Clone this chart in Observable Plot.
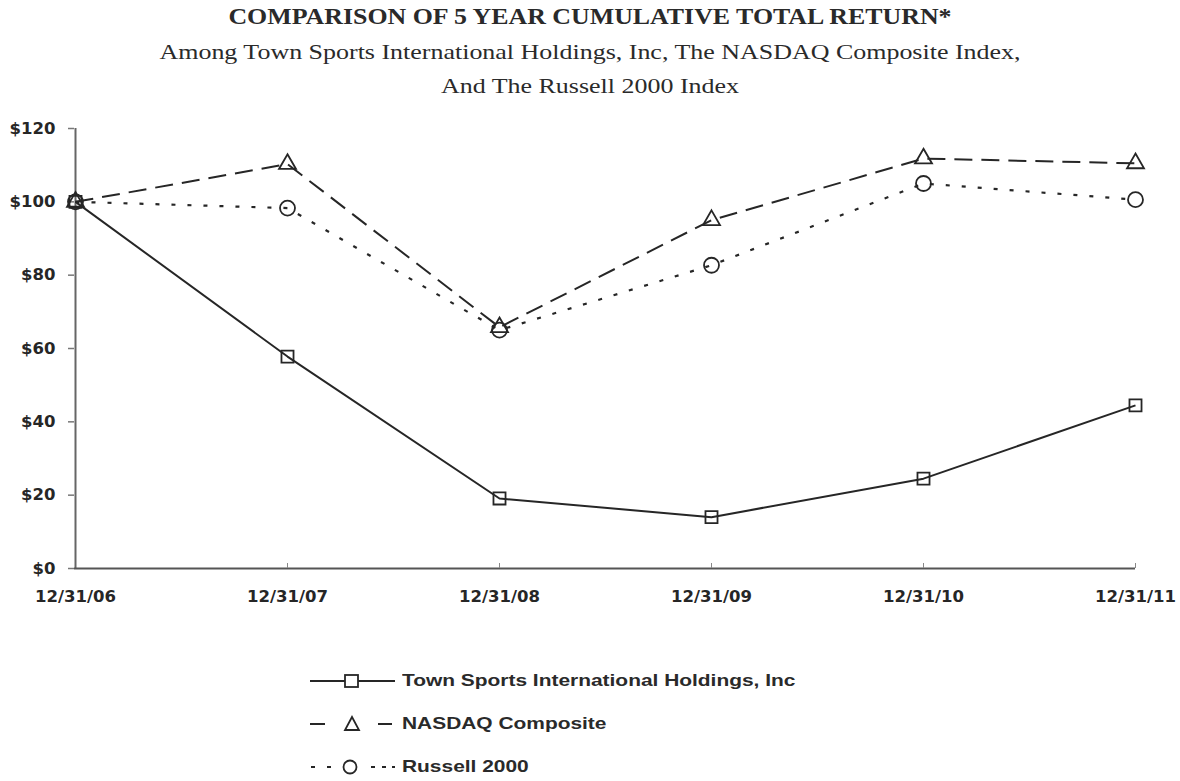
<!DOCTYPE html>
<html>
<head>
<meta charset="utf-8">
<script src="https://cdn.jsdelivr.net/npm/d3@7"></script>
<script src="https://cdn.jsdelivr.net/npm/@observablehq/plot@0.6"></script>
<style>
  body { margin: 0; background: #fff; }
  #wrap { position: relative; width: 1180px; height: 781px; overflow: hidden; }
  .t1 { position: absolute; left: 0; width: 1180px; text-align: center; font-family: "Liberation Serif", "DejaVu Serif", serif; color: #2a2a2a; white-space: nowrap; }
  #legend { position: absolute; left: 308px; top: 659px; font-family: "Liberation Sans", Arial, sans-serif; font-weight: bold; font-size: 17px; color: #2a2a2a; }
  .row { display: flex; align-items: center; height: 43px; }
  .row svg { margin-right: 6px; flex: none; }
  .row span { display: inline-block; transform: scaleX(1.23); transform-origin: left center; white-space: nowrap; }
</style>
</head>
<body>
<div id="wrap">
  <div class="t1" style="top:4px; font-size:22.5px; font-weight:bold; transform: scaleX(1.15);">COMPARISON OF 5 YEAR CUMULATIVE TOTAL RETURN*</div>
  <div class="t1" style="top:39px; font-size:22px; transform: scaleX(1.18);">Among Town Sports International Holdings, Inc, The NASDAQ Composite Index,</div>
  <div class="t1" style="top:73px; font-size:22px; transform: scaleX(1.18);">And The Russell 2000 Index</div>
  <div id="chart" style="position:absolute; left:0; top:110px;"></div>
  <div id="legend"></div>
</div>
<script>
const dates = ["12/31/06", "12/31/07", "12/31/08", "12/31/09", "12/31/10", "12/31/11"];
const seriesNames = ["Town Sports International Holdings, Inc", "NASDAQ Composite", "Russell 2000"];
const tsi = [100, 57.8, 19.1, 14.0, 24.5, 44.5];
const nasdaq = [100, 110.3, 65.8, 95.0, 111.8, 110.5];
const russell = [100, 98.3, 65.0, 82.7, 105.0, 100.6];
const yTicks = [0, 20, 40, 60, 80, 100, 120];

const ink = "#262626";
const sans = "DejaVu Sans, sans-serif";
const styles = [
  {values: tsi, symbol: "square", r: 6.8, dash: null, width: 2},
  {values: nasdaq, symbol: "triangle", r: 6.3, dash: "18,9", width: 2},
  {values: russell, symbol: "circle", r: 7.5, dash: "4,12", width: 2.2}
];

const marks = [
  Plot.ruleX([dates[0]], {stroke: "#666", strokeWidth: 2}),
  Plot.ruleY([0], {stroke: "#555", strokeWidth: 2}),
  Plot.ruleX(dates.slice(1), {y1: 0, y2: 0, insetTop: -5, stroke: "#888", strokeWidth: 1}),
  Plot.axisY({ticks: yTicks, tickFormat: d => "$" + d, tickSize: 6, tickPadding: 13, fontSize: 16.5, fontWeight: "bold", fill: ink, stroke: "#777", strokeWidth: 1.5, fontFamily: sans}),
  Plot.axisX({tickSize: 0, tickPadding: 22, fontSize: 16.5, fontWeight: "bold", fill: ink, fontFamily: sans})
];
for (const s of styles) {
  marks.push(Plot.line(dates, {x: dates, y: s.values, stroke: ink, strokeWidth: s.width, strokeDasharray: s.dash, strokeLinecap: "butt"}));
}
for (const s of styles) {
  marks.push(Plot.dot(dates, {x: dates, y: s.values, symbol: s.symbol, r: s.r, fill: "white", fillOpacity: 0, stroke: ink, strokeWidth: 1.8}));
}

const chart = Plot.plot({
  width: 1180,
  height: 520,
  marginLeft: 74,
  marginRight: 45,
  marginTop: 18,
  marginBottom: 62,
  x: {type: "point", domain: dates, padding: 0},
  y: {domain: [0, 120]},
  style: {background: "white", overflow: "visible"},
  marks
});
document.getElementById("chart").append(chart);

// legend
const legend = document.getElementById("legend");
const st = 'stroke="' + ink + '" stroke-width="2"';
const samples = [
  '<line x1="2" x2="87" y1="13" y2="13" ' + st + '/>' +
    '<rect x="37" y="7" width="13" height="12" fill="white" stroke="' + ink + '" stroke-width="1.8"/>',
  '<line x1="2" x2="17" y1="13" y2="13" ' + st + '/><line x1="70" x2="84" y1="13" y2="13" ' + st + '/>' +
    '<path d="M44 6 L51 19 L37 19 Z" fill="white" stroke="' + ink + '" stroke-width="1.8"/>',
  '<line x1="3" x2="7" y1="13" y2="13" ' + st + '/><line x1="19" x2="23" y1="13" y2="13" ' + st + '/>' +
    '<line x1="63" x2="67" y1="13" y2="13" ' + st + '/><line x1="74" x2="78" y1="13" y2="13" ' + st + '/><line x1="84" x2="87" y1="13" y2="13" ' + st + '/>' +
    '<circle cx="42" cy="13" r="6.5" fill="white" stroke="' + ink + '" stroke-width="1.8"/>'
];
seriesNames.forEach((name, i) => {
  const row = document.createElement("div");
  row.className = "row";
  row.innerHTML = '<svg width="88" height="26">' + samples[i] + '</svg><span>' + name + '</span>';
  legend.append(row);
});
</script>
</body>
</html>
